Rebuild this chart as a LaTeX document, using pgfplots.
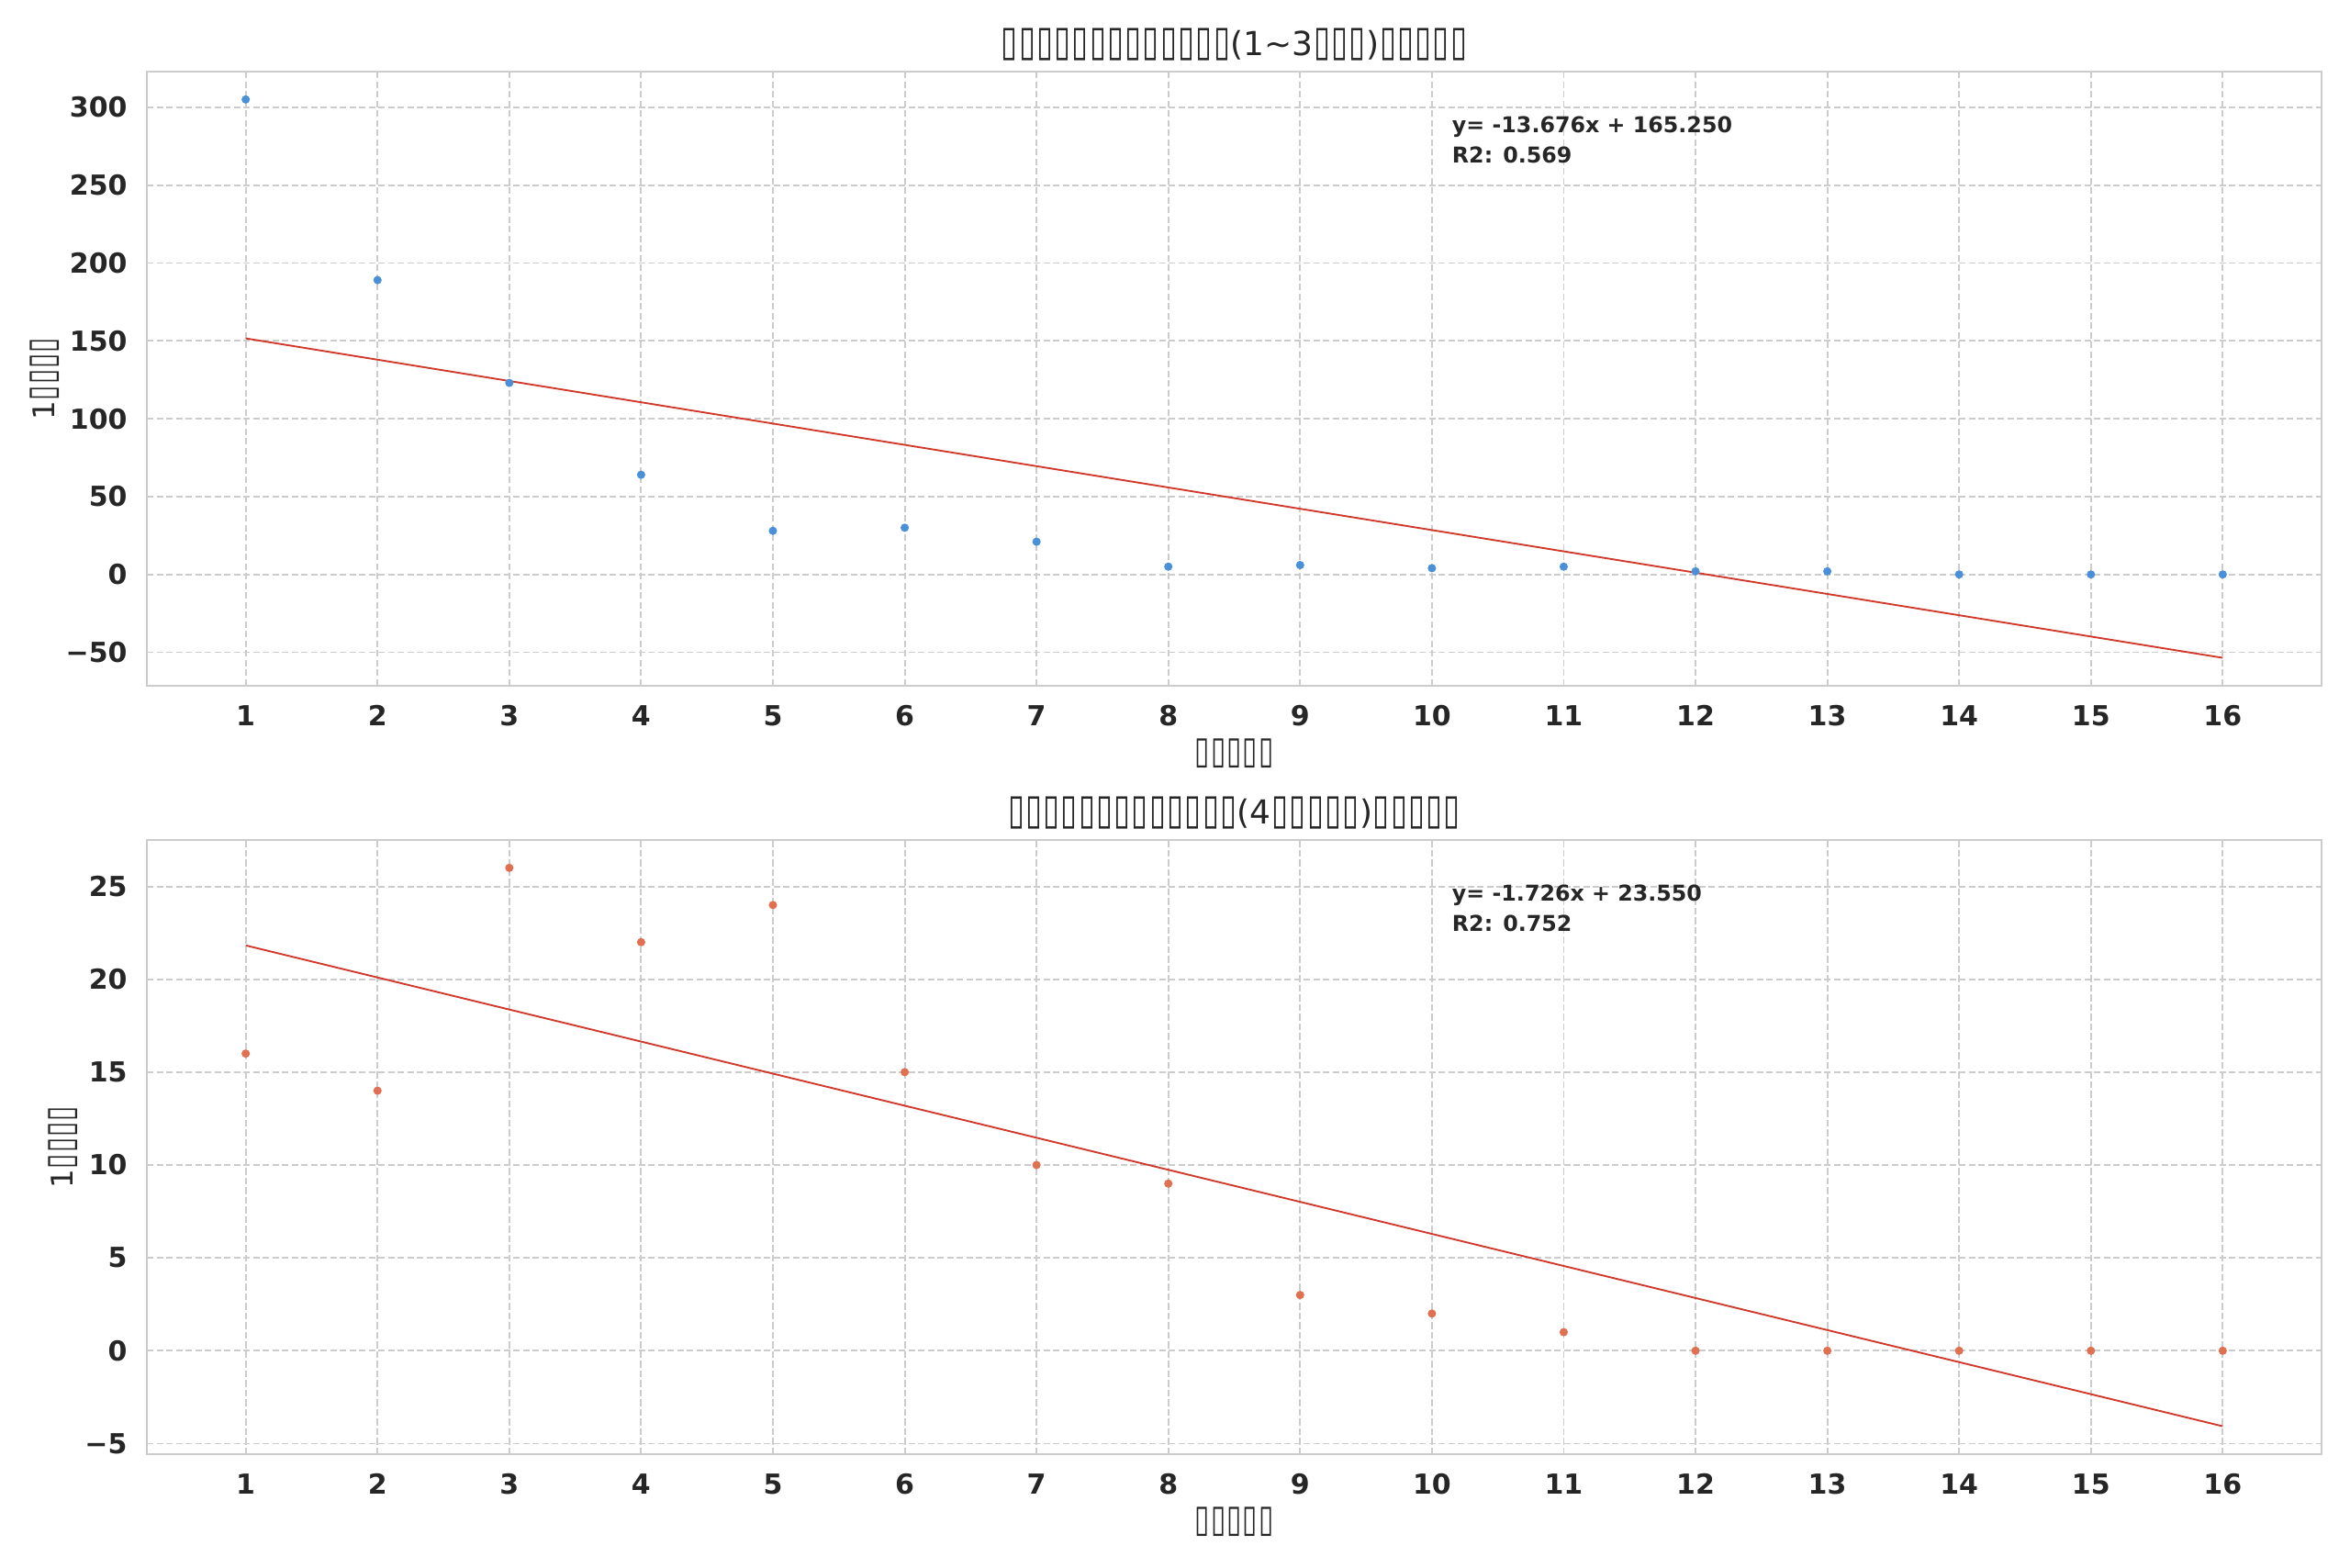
\documentclass[border=0pt]{standalone}
\usepackage{fontspec}
\setmainfont{DejaVu Sans}
\usepackage{graphicx}
\usepackage{pgfplots}
\pgfplotsset{compat=1.18}
\definecolor{txt}{HTML}{262626}
\definecolor{gridc}{HTML}{CCCCCC}
\definecolor{blu}{HTML}{4A90D9}
\definecolor{pts}{HTML}{E07050}
\definecolor{reg}{HTML}{D0392B}
\newcommand\T{\makebox[0.535em]{\resizebox{0.5em}{0.82em}{▯}}}
\pgfplotsset{mystyle/.style={
  scale only axis, width=947.6pt, height=267.6pt,
  xmin=0.25, xmax=16.75, xtick={1,...,16},
  axis line style={gridc, line width=0.7pt},
  grid=major,
  major grid style={gridc, dash pattern=on 2.9pt off 1.3pt, line width=0.75pt},
  major tick length=0pt,
  /pgf/number format/assume math mode=true,
  tick label style={font=\fontsize{12}{14}\selectfont\bfseries, text=txt},
  xticklabel style={inner sep=0pt, yshift=-8.4pt},
  yticklabel style={inner sep=0pt, xshift=-8.4pt},
  label style={font=\fontsize{13}{15}\selectfont, text=txt},
  xlabel style={at={(axis description cs:0.5,0)}, anchor=center, yshift=-29.6pt},
  title style={font=\fontsize{14.4}{17}\selectfont, text=txt, at={(axis description cs:0.5,1)}, anchor=center, yshift=5.6pt},
}}
\begin{document}
\begin{tikzpicture}
\path[use as bounding box] (0,0) rectangle (1024pt,682.8pt);
\begin{axis}[mystyle, at={(64pt,384pt)}, anchor=south west,
  ymin=-71.5, ymax=322.9,
  ytick={-50,0,50,100,150,200,250,300},
  yticklabels={−50,0,50,100,150,200,250,300},
  title={\T\T\T\T\T\T\T\T\T\T\T\T\T(1\textasciitilde 3\T\T\T)\T\T\T\T\T},
  xlabel={\T\T\T\T\T},
  ylabel={1\T\T\T\T},
  ylabel style={at={(axis description cs:0,0.5)}, anchor=center, yshift=44.4pt},
]
\addplot[only marks, mark=*, mark size=1.6pt, mark options={draw=blu, fill=blu}] coordinates {
 (1,305) (2,189) (3,123) (4,64) (5,28) (6,30) (7,21) (8,5)
 (9,6) (10,4) (11,5) (12,2) (13,2) (14,0) (15,0) (16,0)};
\addplot[reg, line width=0.75pt] coordinates {(1,151.574) (16,-53.566)};
\node[anchor=north west, inner sep=0pt, align=left, text=txt,
  font=\fontsize{9.5}{13.2}\selectfont\bfseries] at (rel axis cs:0.6,1)
  [yshift=-19.4pt] {y= -13.676x + 165.250\\R2: 0.569};
\end{axis}
\begin{axis}[mystyle, at={(64pt,49.2pt)}, anchor=south west,
  ymin=-5.57, ymax=27.5,
  ytick={-5,0,5,10,15,20,25},
  yticklabels={−5,0,5,10,15,20,25},
  title={\T\T\T\T\T\T\T\T\T\T\T\T\T(4\T\T\T\T\T)\T\T\T\T\T},
  xlabel={\T\T\T\T\T},
  ylabel={1\T\T\T\T},
  ylabel style={at={(axis description cs:0,0.5)}, anchor=center, yshift=36.4pt},
]
\addplot[only marks, mark=*, mark size=1.6pt, mark options={draw=pts, fill=pts}] coordinates {
 (1,16) (2,14) (3,26) (4,22) (5,24) (6,15) (7,10) (8,9)
 (9,3) (10,2) (11,1) (12,0) (13,0) (14,0) (15,0) (16,0)};
\addplot[reg, line width=0.75pt] coordinates {(1,21.824) (16,-4.066)};
\node[anchor=north west, inner sep=0pt, align=left, text=txt,
  font=\fontsize{9.5}{13.2}\selectfont\bfseries] at (rel axis cs:0.6,1)
  [yshift=-19.4pt] {y= -1.726x + 23.550\\R2: 0.752};
\end{axis}
\end{tikzpicture}
\end{document}
